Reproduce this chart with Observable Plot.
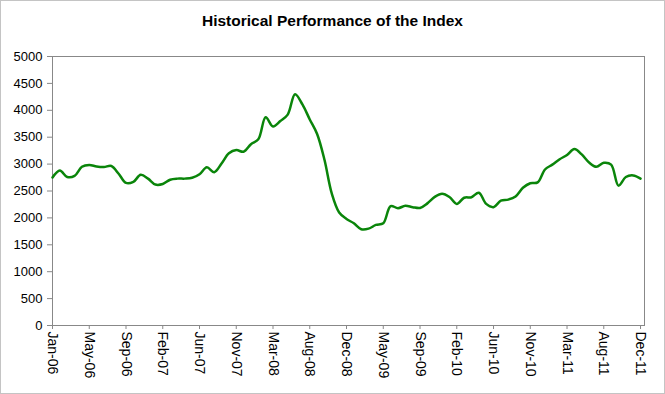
<!DOCTYPE html>
<html>
<head>
<meta charset="utf-8">
<script src="https://cdn.jsdelivr.net/npm/d3@7"></script>
<script src="https://cdn.jsdelivr.net/npm/@observablehq/plot@0.6"></script>
<style>
  html, body { margin: 0; padding: 0; background: #fff; }
  #wrap { width: 663px; height: 392px; border: 1px solid #c4c4c4; background: #fff; font-family: "Liberation Sans", Arial, sans-serif; }
  #title { height: 41px; box-sizing: border-box; padding-top: 11px; text-align: center; font-weight: bold; font-size: 15.5px; line-height: 17px; color: #000; }
  svg g[aria-label="y-axis tick"], svg g[aria-label="x-axis tick"] { stroke: #888; }
  svg g[aria-label="x-axis tick label"] { font-size: 14px; }
</style>
</head>
<body>
<div id="wrap">
  <div id="title">Historical Performance of the Index</div>
  <div id="chart"></div>
</div>
<script>
// Category labels shown on the x axis (one every `pointsPerLabel` observations)
const tickLabels = ["Jan-06","May-06","Sep-06","Feb-07","Jun-07","Nov-07","Mar-08","Aug-08","Dec-08",
                    "May-09","Sep-09","Feb-10","Jun-10","Nov-10","Mar-11","Aug-11","Dec-11"];
const pointsPerLabel = 5;

// Index level observations, Jan-06 .. Dec-11
const values = [
  2750, 2880, 2760, 2780, 2950, 2985, 2955, 2945, 2965, 2820,
  2650, 2670, 2800, 2730, 2620, 2630, 2710, 2730, 2730, 2745,
  2810, 2940, 2850, 3010, 3200, 3260, 3230, 3370, 3460, 3870,
  3700, 3800, 3920, 4300, 4110, 3830, 3560, 3080, 2450, 2100,
  1980, 1900, 1790, 1800, 1870, 1900, 2220, 2180, 2225, 2200,
  2185, 2270, 2390, 2450, 2390, 2260, 2375, 2385, 2467, 2260,
  2200, 2320, 2340, 2400, 2560, 2645, 2660, 2900, 2990, 3090,
  3170, 3280, 3180, 3030, 2950, 3025, 2990, 2600, 2760, 2790,
  2730
];

const yTicks = [0, 500, 1000, 1500, 2000, 2500, 3000, 3500, 4000, 4500, 5000];

const data = values.map((v, i) => ({i, v}));
const xTicks = tickLabels.map((_, k) => k * pointsPerLabel);

const chart = Plot.plot({
  width: 663,
  height: 351,
  marginTop: 14,
  marginBottom: 68,
  marginLeft: 51,
  marginRight: 20,
  style: {fontFamily: "'Liberation Sans', Arial, sans-serif", fontSize: "13px", color: "#000", background: "#fff"},
  x: {type: "linear", domain: [0, (tickLabels.length - 1) * pointsPerLabel + 0.54]},
  y: {domain: [0, 5000]},
  marks: [
    Plot.frame({stroke: "#888"}),
    Plot.axisY({ticks: yTicks, tickFormat: d => String(d), tickSize: 5, tickPadding: 5, label: null}),
    Plot.axisX({ticks: xTicks, tickFormat: i => tickLabels[Math.round(i / pointsPerLabel)], tickRotate: 90, tickSize: 4, tickPadding: 2, label: null}),
    Plot.line(data, {x: "i", y: "v", stroke: "#0a850a", strokeWidth: 2.5, curve: "catmull-rom"})
  ]
});
document.getElementById("chart").appendChild(chart);
</script>
</body>
</html>
